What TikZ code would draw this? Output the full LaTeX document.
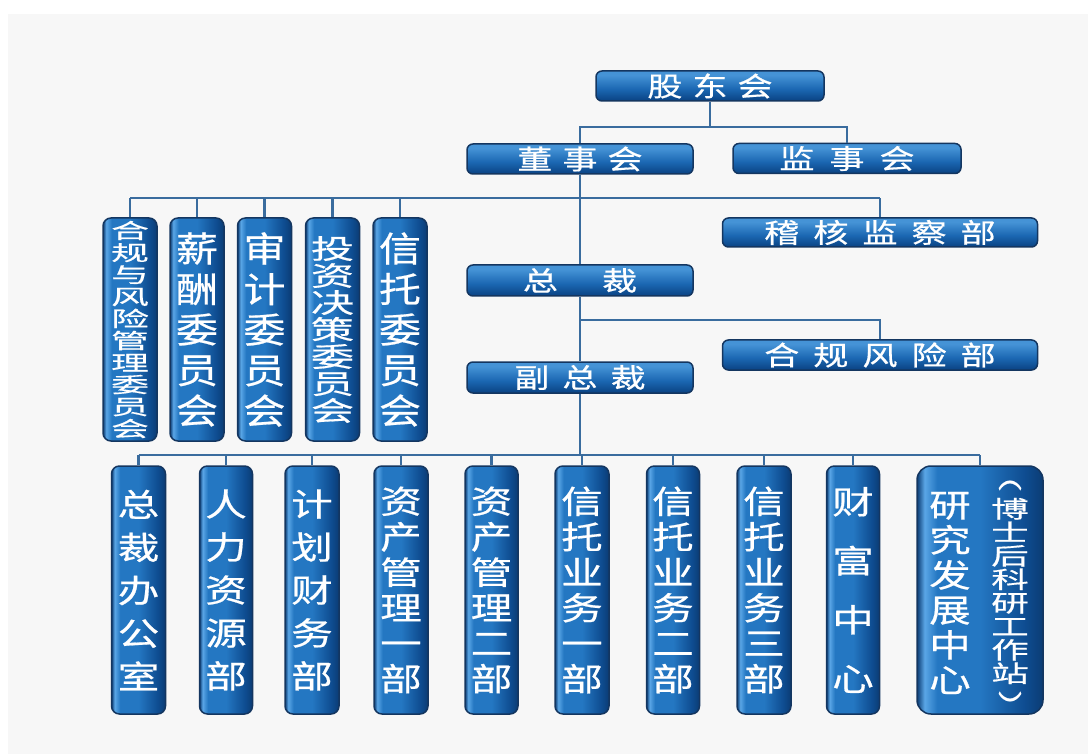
\documentclass[tikz,border=0pt]{standalone}
\usepackage{fontspec}
\newfontfamily\cjkA[FakeStretch=1.3,FakeBold=0.6]{Noto Sans CJK SC}
\newfontfamily\cjkB[FakeStretch=1.6,FakeBold=0.6]{Noto Sans CJK SC}
\newfontfamily\cjkC[FakeStretch=1.8,FakeBold=0.6]{Noto Sans CJK SC}
\newfontfamily\cjkD[FakeStretch=1.2,FakeBold=0.6]{Noto Sans CJK SC}
\definecolor{bgpanel}{HTML}{F7F7F7}
\definecolor{edge}{HTML}{143660}
\definecolor{conncol}{HTML}{3A6C9E}
\definecolor{vdark}{HTML}{0B3C74}
\definecolor{vlight}{HTML}{5AA6E6}
\definecolor{vmid}{HTML}{2477C2}
\definecolor{vdeep}{HTML}{0E4C90}
\definecolor{htop}{HTML}{4593D6}
\definecolor{hmid}{HTML}{1B67B2}
\definecolor{hbot}{HTML}{0A4282}
\pgfdeclarehorizontalshading{vbar}{100bp}{color(0bp)=(vdark); color(25bp)=(vdark); color(28bp)=(vlight); color(33bp)=(vmid); color(50bp)=(vmid); color(68bp)=(vdeep); color(75bp)=(vdark); color(100bp)=(vdark)}
\pgfdeclareverticalshading{hbar}{100bp}{color(0bp)=(hbot); color(25bp)=(hbot); color(45bp)=(hmid); color(68bp)=(htop); color(75bp)=(htop); color(100bp)=(htop)}
\tikzset{
  hb/.style={draw=edge, line width=1.5pt, rounded corners=6pt, shade, shading=hbar, text=white,
    font=\cjkA\fontsize{27}{30}\selectfont, inner sep=0pt, minimum height=30pt},
  vb/.style={draw=edge, line width=1.5pt, rounded corners=8pt, shade, shading=vbar, text=white,
    inner sep=0pt, align=center},
  conn/.style={draw=conncol, line width=2.5pt},
  fA/.style={font={\cjkA\fontsize{32}{#1}\selectfont\lineskiplimit=-100pt}},
  fC/.style={font={\cjkC\fontsize{21}{22}\selectfont\lineskiplimit=-100pt}},
  fD/.style={font={\cjkD\fontsize{35}{40.5}\selectfont\lineskiplimit=-100pt}},
  fB/.style={font={\cjkB\fontsize{#1}{#1}\selectfont\lineskiplimit=-100pt}},
}
\begin{document}
\begin{tikzpicture}[x=1pt,y=-1pt]
\useasboundingbox (0,0) rectangle (1088,754);
\fill[white] (0,0) rectangle (1088,754);
\fill[bgpanel] (8,14) rectangle (1088,754);

% top level
\node[hb, minimum width=228pt] (gd) at (710,86) {股\hspace{10pt}东\hspace{10pt}会};
\node[hb, minimum width=226pt] (dsh) at (580,159) {董\hspace{10pt}事\hspace{10pt}会};
\node[hb, minimum width=228pt] (jsh) at (847,158.5) {监\hspace{15pt}事\hspace{15pt}会};
\node[hb, minimum width=315pt, minimum height=29pt] (jhjc) at (880,232.5) {稽\hspace{14pt}核\hspace{14pt}监\hspace{14pt}察\hspace{14pt}部};
\node[hb, minimum width=226pt, minimum height=31pt] (zc) at (580,280.5) {总\hspace{44pt}裁};
\node[hb, minimum width=315pt] (hgfx) at (880,355) {合\hspace{14pt}规\hspace{14pt}风\hspace{14pt}险\hspace{14pt}部};
\node[hb, minimum width=226pt, minimum height=31pt] (fzc) at (580,377.5) {副\hspace{13pt}总\hspace{13pt}裁};

% committees
\node[vb, fC, minimum width=54pt, minimum height=223pt] (c1) at (130,329.5) {合\\规\\与\\风\\险\\管\\理\\委\\员\\会};
\node[vb, fD, minimum width=54pt, minimum height=223pt] (c2) at (197,329.5) {薪\\酬\\委\\员\\会};
\node[vb, fD, minimum width=54pt, minimum height=223pt] (c3) at (264.5,329.5) {审\\计\\委\\员\\会};
\node[vb, fB=27, minimum width=54pt, minimum height=223pt] (c4) at (332.5,329.5) {投\\资\\决\\策\\委\\员\\会};
\node[vb, fD, minimum width=54pt, minimum height=223pt] (c5) at (400,329.5) {信\\托\\委\\员\\会};

% departments
\node[vb, fA=43, minimum width=54pt, minimum height=248pt] (b1) at (138.5,590) {总\\裁\\办\\公\\室};
\node[vb, fA=43, minimum width=53pt, minimum height=248pt] (b2) at (226,590) {人\\力\\资\\源\\部};
\node[vb, fA=43, minimum width=54pt, minimum height=248pt] (b3) at (312,590) {计\\划\\财\\务\\部};
\node[vb, fA=35.5, minimum width=54pt, minimum height=248pt] (b4) at (401,590) {资\\产\\管\\理\\一\\部};
\node[vb, fA=35.5, minimum width=53pt, minimum height=248pt] (b5) at (491.5,590) {资\\产\\管\\理\\二\\部};
\node[vb, fA=35.5, minimum width=54pt, minimum height=248pt] (b6) at (582,590) {信\\托\\业\\务\\一\\部};
\node[vb, fA=35.5, minimum width=53pt, minimum height=248pt] (b7) at (673,590) {信\\托\\业\\务\\二\\部};
\node[vb, fA=35.5, minimum width=54pt, minimum height=248pt] (b8) at (764,590) {信\\托\\业\\务\\三\\部};
\node[vb, fA=59, minimum width=53pt, minimum height=248pt] (b9) at (853,590) {财\\富\\中\\心};
\node[vb, rounded corners=14pt, minimum width=126pt, minimum height=248pt] (b10) at (980,590) {};
\node[fA=35, text=white, inner sep=0pt, align=center] (b10l) at (950,593) {研\\究\\发\\展\\中\\心};
\node[fB=23.5, text=white, inner sep=0pt, align=center] (b10r) at (1010,591) {\rotatebox[origin=c]{-90}{（}\\[12pt]博\\士\\后\\科\\研\\工\\作\\站\\[12pt]\rotatebox[origin=c]{-90}{）}};

% connectors
\coordinate (topbus) at (710,127);
\draw[conn] (gd.south) -- (topbus);
\draw[conn] (dsh.north) |- (topbus) -| (jsh.north);

\coordinate (busA) at (580,198);
\draw[conn] (dsh.south) -- (zc.north);
\draw[conn] (c1.north |- busA) -- (jhjc.north |- busA);
\foreach \n in {c1,c2,c3,c4,c5,jhjc} \draw[conn] (\n.north) -- (\n.north |- busA);

\coordinate (busB) at (580,320);
\draw[conn] (zc.south) -- (fzc.north);
\draw[conn] (busB) -| (hgfx.north);

\coordinate (busC) at (580,455);
\draw[conn] (fzc.south) -- (busC);
\draw[conn] (b1.north |- busC) -- (b10.north |- busC);
\foreach \n in {b1,b2,b3,b4,b5,b6,b7,b8,b9,b10} \draw[conn] (\n.north) -- (\n.north |- busC);
\end{tikzpicture}
\end{document}
